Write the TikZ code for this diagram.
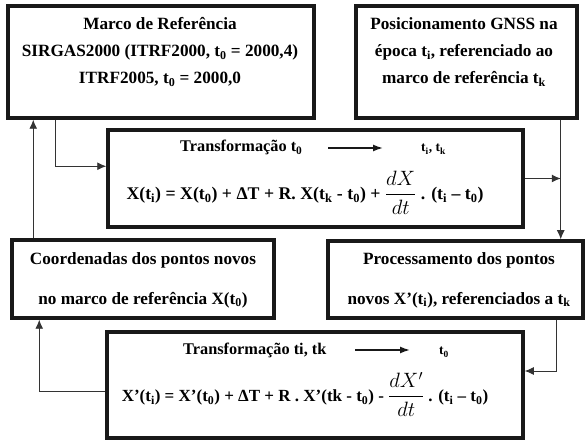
\documentclass[tikz,border=0pt]{standalone}
\usepackage{amsmath}
\usepackage{fontspec}
\setmainfont{Liberation Serif}
\usetikzlibrary{arrows.meta}
\begin{document}
\begin{tikzpicture}[x=1pt,y=-1pt,
	box/.style={draw=black!90,line width=3.5pt,inner sep=0pt},
	txt/.style={font=\bfseries\fontsize{17.2}{27}\selectfont,align=center,inner sep=0pt},
	head/.style={font=\bfseries\fontsize{16.3}{18}\selectfont,inner sep=0pt,anchor=base west},
	eqn/.style={font=\bfseries\fontsize{17.8}{20}\selectfont,inner sep=0pt,anchor=base},
	link/.style={draw=black!80,line width=0.9pt},
	tip/.style={-{Latex[length=9pt,width=8pt]}},
	hdarrow/.style={draw=black!90,line width=1.5pt,-{Latex[length=10pt,width=7pt]}}]
	\useasboundingbox (0,0) rectangle (587,443);
	\node[box,minimum width=306pt,minimum height=112pt] (marco) at (161,62) {};
	\node[box,minimum width=221pt,minimum height=112pt] (posGNSS) at (466.5,62) {};
	\node[box,minimum width=415pt,minimum height=97pt] (transfA) at (315.5,178.5) {};
	\node[box,minimum width=262pt,minimum height=78pt] (coordNovos) at (143,279) {};
	\node[box,minimum width=255pt,minimum height=77pt] (procNovos) at (455.5,279.5) {};
	\node[box,minimum width=416pt,minimum height=106pt] (transfB) at (315,385) {};
	\node[txt] (marcoTxt) at (160,52) {Marco de Referência\\SIRGAS2000 (ITRF2000, t\textsubscript{0} = 2000,4)\\ITRF2005, t\textsubscript{0} = 2000,0};
	\node[txt] (posTxt) at (464,52) {Posicionamento GNSS na\\época t\textsubscript{i}, referenciado ao\\marco de referência t\textsubscript{k}};
	\node[txt,font=\bfseries\fontsize{17.2}{40}\selectfont] (coordTxt) at (143,280) {Coordenadas dos pontos novos\\no marco de referência X(t\textsubscript{0})};
	\node[txt,font=\bfseries\fontsize{17.2}{40}\selectfont] (procTxt) at (459,280) {Processamento dos pontos\\novos X’(t\textsubscript{i}), referenciados a t\textsubscript{k}};
	\node[head] (headA) at (180,152) {Transformação t\textsubscript{0}};
	\node[head,font=\bfseries\fontsize{13.5}{16}\selectfont] (headAto) at (421,152) {t\textsubscript{i}, t\textsubscript{k}};
	\draw[hdarrow] (328,148) -- (383,148);
	\node[eqn] (eqA) at (305,200) {X(t\textsubscript{i}) = X(t\textsubscript{0}) + ΔT + R. X(t\textsubscript{k} - t\textsubscript{0}) + {\fontsize{21}{24}\selectfont$\dfrac{dX}{dt}$} . (t\textsubscript{i} – t\textsubscript{0})};
	\node[head] (headB) at (183,355) {Transformação ti, tk};
	\node[head,font=\bfseries\fontsize{13.5}{16}\selectfont] (headBto) at (439,355) {t\textsubscript{0}};
	\draw[hdarrow] (355,350) -- (410,350);
	\node[eqn,font=\bfseries\fontsize{17}{20}\selectfont] (eqB) at (305,402) {X’(t\textsubscript{i}) = X’(t\textsubscript{0}) + ΔT + R . X’(tk - t\textsubscript{0}) - {\fontsize{21}{24}\selectfont$\dfrac{dX'}{dt}$} . (t\textsubscript{i} – t\textsubscript{0})};
	\draw[link,tip] ([xshift=49pt]marco.south west) |- ([yshift=-38pt]transfA.north west);
	\draw[link,tip] ([xshift=-18pt]posGNSS.south east) coordinate (bDown) -- (bDown |- procNovos.north);
	\draw[link,tip] (transfA.east) -- (transfA.east -| bDown);
	\draw[link,tip] ([xshift=-28pt]procNovos.south east) |- ([yshift=14pt]transfB.east);
	\draw[link,tip] ([yshift=-6pt]transfB.west) -| ([xshift=29pt]coordNovos.south west);
	\draw[link,tip] ([xshift=23pt]coordNovos.north west) coordinate (dUp) -- (dUp |- marco.south);
\end{tikzpicture}
\end{document}
